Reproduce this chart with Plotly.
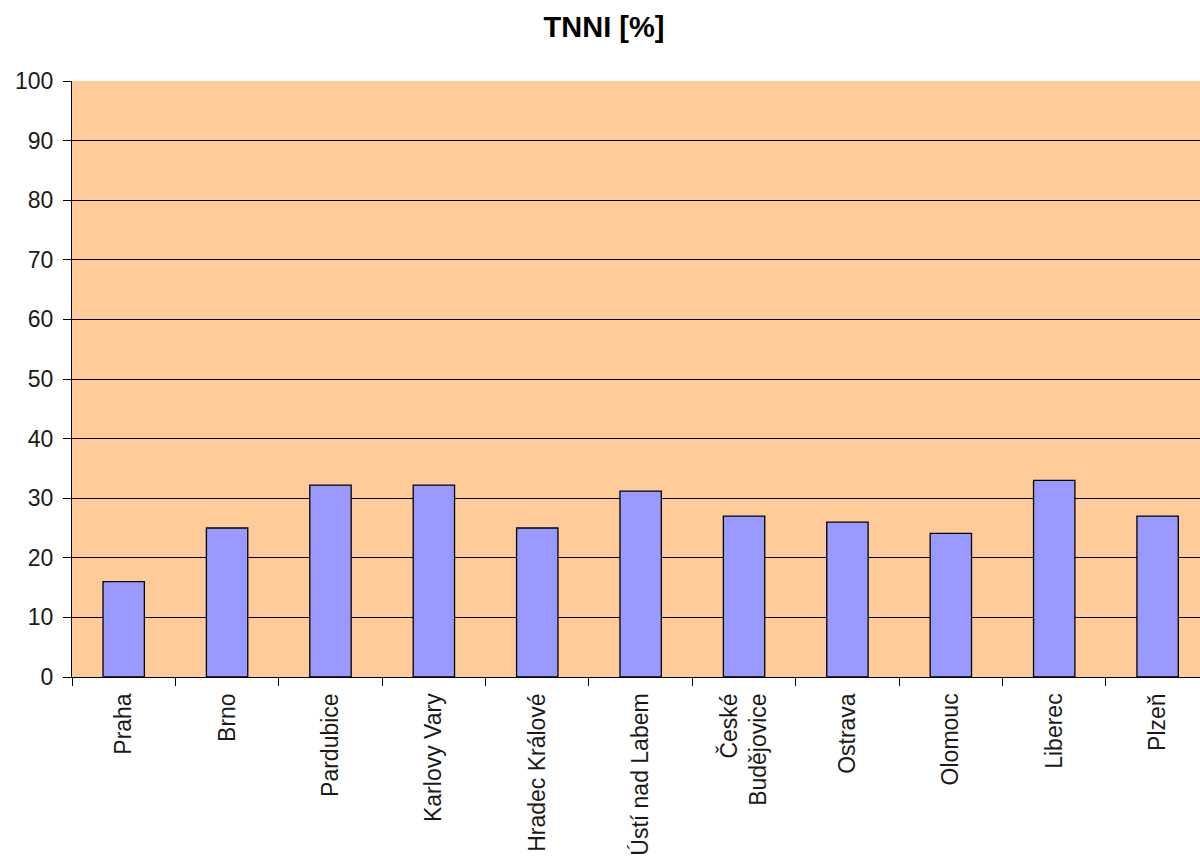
import plotly.graph_objects as go

# Cities and their TNNI share in percent
cities = ["Praha", "Brno", "Pardubice", "Karlovy Vary", "Hradec Králové",
          "Ústí nad Labem", "České<br>Budějovice", "Ostrava", "Olomouc",
          "Liberec", "Plzeň"]
tnni = [16, 25, 32.2, 32.2, 25, 31.2, 27, 26, 24.1, 33, 27]

y_ticks = list(range(0, 101, 10))

font_family = "Liberation Sans, Arial, sans-serif"

fig = go.Figure(
    go.Bar(
        x=cities,
        y=tnni,
        width=0.4,
        marker=dict(color="#9999FF", line=dict(color="#000000", width=1.3)),
        hoverinfo="x+y",
    )
)

fig.update_layout(
    width=1200,
    height=863,
    margin=dict(l=72, r=0, t=81, b=186),
    paper_bgcolor="#FFFFFF",
    plot_bgcolor="#FFCC99",
    showlegend=False,
    title=dict(
        text="<b>TNNI [%]</b>",
        font=dict(family=font_family, size=29, color="#000000"),
        x=604 / 1200,
        xanchor="center",
        xref="container",
        y=1 - 27 / 863,
        yanchor="middle",
        yref="container",
    ),
    font=dict(family=font_family, size=23, color="#1a1a1a"),
)

fig.update_xaxes(
    type="category",
    range=[-0.5, 10.41],
    tickson="boundaries",
    ticks="outside",
    ticklen=8,
    tickwidth=1.3,
    tickcolor="#000000",
    showline=True,
    linecolor="#000000",
    linewidth=1.3,
    showgrid=False,
    tickangle=-90,
    tickfont=dict(family=font_family, size=23, color="#1a1a1a"),
    ticklabelstandoff=6,
)

fig.update_yaxes(
    range=[0, 100],
    tickvals=y_ticks,
    ticks="outside",
    ticklen=8,
    tickwidth=1.3,
    tickcolor="#000000",
    showline=True,
    linecolor="#000000",
    linewidth=1.3,
    showgrid=True,
    gridcolor="#000000",
    gridwidth=1.4,
    zeroline=False,
    tickfont=dict(family=font_family, size=23, color="#1a1a1a"),
    ticklabelstandoff=5,
)

fig.write_html("out.html")
